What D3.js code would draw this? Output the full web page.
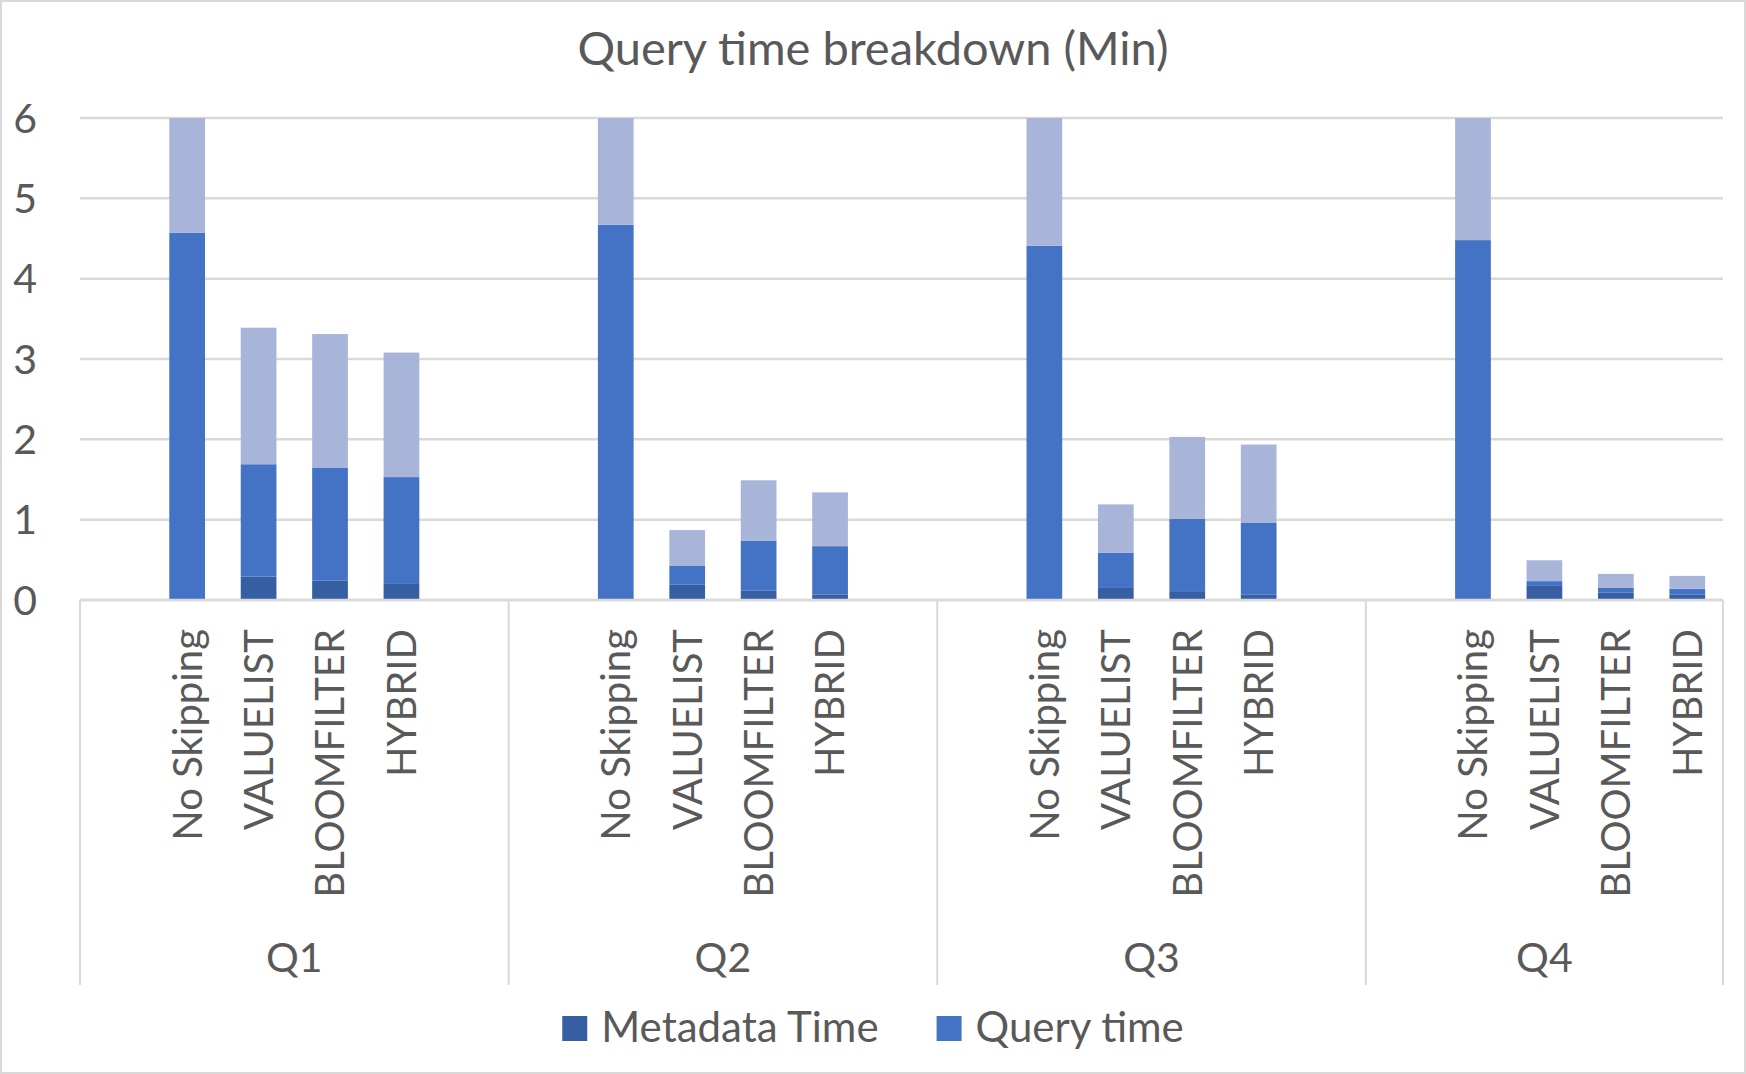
<!DOCTYPE html>
<html>
<head>
<meta charset="utf-8">
<script src="https://cdn.jsdelivr.net/npm/d3@7"></script>
<style>
  body { margin: 0; background: #fff; }
  text { font-family: Lato, "Open Sans", sans-serif; fill: #595959; }
</style>
</head>
<body>
<svg id="chart"></svg>
<script>
// values, per group in order of methods
var groups = ["Q1", "Q2", "Q3", "Q4"];
var methods = ["No Skipping", "VALUELIST", "BLOOMFILTER", "HYBRID"];

var metadataTime = [
    [0, 0.29, 0.24, 0.20],
    [0, 0.19, 0.12, 0.07],
    [0, 0.15, 0.11, 0.065],
    [0, 0.175, 0.09, 0.065]
];
var queryTime = [
    [4.57, 1.40, 1.41, 1.33],
    [4.67, 0.24, 0.62, 0.60],
    [4.41, 0.44, 0.90, 0.90],
    [4.48, 0.06, 0.06, 0.075]
];
// third stacked series, not listed in the legend (No Skipping is cut off at 6)
var otherTime = [
    [1.6, 1.70, 1.66, 1.55],
    [1.6, 0.44, 0.75, 0.67],
    [1.6, 0.60, 1.02, 0.97],
    [1.6, 0.26, 0.175, 0.16]
];
var yTicks = [0, 1, 2, 3, 4, 5, 6];

var seriesNames = ["Metadata Time", "Query time", "Other time"];
var seriesColors = ["#365EA3", "#4472C4", "#A8B5D9"];
var inLegend = [true, true, false];

var svgWidth = 1746, svgHeight = 1074;
var plotLeft = 80, plotRight = 1723, plotTop = 118, plotBottom = 600;

var svg = d3.select('#chart')
    .attr("width", svgWidth)
    .attr("height", svgHeight);

// chart border
svg.append("rect")
    .attr("x", 1).attr("y", 1)
    .attr("width", svgWidth - 2).attr("height", svgHeight - 2)
    .attr("fill", "#fff")
    .attr("stroke", "#D9D9D9")
    .attr("stroke-width", 2);

// category slots: blank slot before each group and after every group but the last
var slots = [];
groups.forEach(function (g, gi) {
    slots.push({ key: g + "-pre", group: g, label: "" });
    methods.forEach(function (m, mi) {
        slots.push({ key: g + "-" + m, group: g, label: m, gi: gi, mi: mi });
    });
    if (gi < groups.length - 1) slots.push({ key: g + "-post", group: g, label: "" });
});

var x = d3.scaleBand()
    .domain(slots.map(function (d) { return d.key; }))
    .range([plotLeft, plotRight])
    .paddingInner(0.5)
    .paddingOuter(0.25);

var y = d3.scaleLinear()
    .domain([0, 6])
    .range([plotBottom, plotTop])
    .clamp(true);

// gridlines
svg.append("g")
    .selectAll("line")
    .data(yTicks)
    .enter()
    .append("line")
    .attr("x1", plotLeft).attr("x2", plotRight)
    .attr("y1", function (d) { return y(d); })
    .attr("y2", function (d) { return y(d); })
    .attr("stroke", "#D9D9D9")
    .attr("stroke-width", 2.5);

// y tick labels
svg.append("g")
    .selectAll("text")
    .data(yTicks)
    .enter()
    .append("text")
    .attr("x", 37)
    .attr("y", function (d) { return y(d); })
    .attr("dy", "0.36em")
    .attr("text-anchor", "end")
    .style("font-size", "41px")
    .text(function (d) { return d; });

// stacked bars
var rows = slots.filter(function (d) { return d.label !== ""; }).map(function (d) {
    return {
        key: d.key,
        s0: metadataTime[d.gi][d.mi],
        s1: queryTime[d.gi][d.mi],
        s2: otherTime[d.gi][d.mi]
    };
});
var stack = d3.stack().keys(["s0", "s1", "s2"]);
var layers = stack(rows);

svg.append("g")
    .selectAll("g")
    .data(layers)
    .enter()
    .append("g")
    .attr("fill", function (d, i) { return seriesColors[i]; })
    .selectAll("rect")
    .data(function (d) { return d; })
    .enter()
    .append("rect")
    .attr("x", function (d) { return x(d.data.key); })
    .attr("width", x.bandwidth())
    .attr("y", function (d) { return y(d[1]); })
    .attr("height", function (d) { return y(d[0]) - y(d[1]); });

// category axis: separators between groups
var groupEdges = [];
groups.forEach(function (g) {
    var keys = slots.filter(function (d) { return d.group === g; });
    var x0 = x(keys[0].key) - x.step() * x.paddingOuter();
    var x1 = x(keys[keys.length - 1].key) + x.bandwidth() + x.step() * x.paddingOuter();
    groupEdges.push({ group: g, x0: x0, x1: x1 });
});
var sepXs = groupEdges.map(function (d) { return d.x0; }).concat([plotRight]);

svg.append("g")
    .selectAll("line")
    .data(sepXs)
    .enter()
    .append("line")
    .attr("x1", function (d) { return d; })
    .attr("x2", function (d) { return d; })
    .attr("y1", plotBottom)
    .attr("y2", 985)
    .attr("stroke", "#D9D9D9")
    .attr("stroke-width", 2);

svg.append("line")
    .attr("x1", plotLeft).attr("x2", plotRight)
    .attr("y1", plotBottom).attr("y2", plotBottom)
    .attr("stroke", "#D9D9D9")
    .attr("stroke-width", 2.5);

// method labels, rotated
svg.append("g")
    .selectAll("text")
    .data(slots.filter(function (d) { return d.label !== ""; }))
    .enter()
    .append("text")
    .attr("transform", function (d) {
        return "translate(" + (x(d.key) + x.bandwidth() / 2) + ",629) rotate(-90)";
    })
    .attr("dy", "0.36em")
    .attr("text-anchor", "end")
    .style("font-size", "40px")
    .text(function (d) { return d.label; });

// group labels
svg.append("g")
    .selectAll("text")
    .data(groupEdges)
    .enter()
    .append("text")
    .attr("x", function (d) { return (d.x0 + d.x1) / 2; })
    .attr("y", 972)
    .attr("text-anchor", "middle")
    .style("font-size", "41px")
    .text(function (d) { return d.group; });

// title
svg.append("text")
    .attr("x", svgWidth / 2)
    .attr("y", 65)
    .attr("text-anchor", "middle")
    .style("font-size", "47px")
    .text("Query time breakdown (Min)");

// legend, centred under the chart
var legendItems = seriesNames.map(function (n, i) { return { name: n, color: seriesColors[i] }; })
    .filter(function (d, i) { return inLegend[i]; });

var item = svg.append("g")
    .selectAll("g")
    .data(legendItems)
    .enter()
    .append("g");

item.append("rect")
    .attr("width", 25).attr("height", 25)
    .attr("y", 1016)
    .attr("fill", function (d) { return d.color; });

item.append("text")
    .attr("x", 39)
    .attr("y", 1042)
    .style("font-size", "42px")
    .text(function (d) { return d.name; });

var gap = 58;
var widths = [];
item.each(function () {
    widths.push(39 + d3.select(this).select("text").node().getComputedTextLength());
});
var total = d3.sum(widths) + gap * (widths.length - 1);
var offset = svgWidth / 2 - total / 2;
item.attr("transform", function (d, i) {
    var t = "translate(" + offset + ",0)";
    offset += widths[i] + gap;
    return t;
});
</script>
</body>
</html>
